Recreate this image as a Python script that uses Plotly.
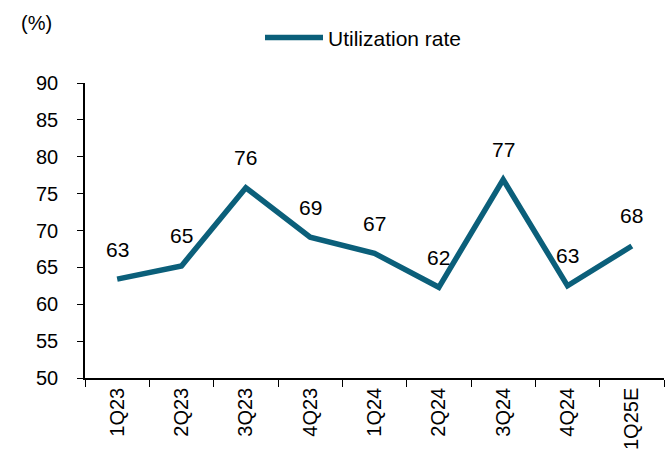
import plotly.graph_objects as go

quarters = ["1Q23", "2Q23", "3Q23", "4Q23", "1Q24", "2Q24", "3Q24", "4Q24", "1Q25E"]
utilization = [63.4, 65.2, 75.8, 69.1, 66.9, 62.3, 76.9, 62.5, 67.9]
labels = ["63", "65", "76", "69", "67", "62", "77", "63", "68"]

color = "#0B5F7A"
font_family = "Liberation Sans, Arial, sans-serif"

fig = go.Figure()
fig.add_trace(go.Scatter(
    x=quarters, y=utilization, mode="lines", name="Utilization rate",
    line=dict(color=color, width=5.5),
))

for q, v, t in zip(quarters, utilization, labels):
    fig.add_annotation(x=q, y=v, text=t, showarrow=False, yshift=30,
                       font=dict(size=21, color="black", family=font_family))

fig.add_annotation(xref="paper", yref="paper", x=-0.084, y=1.202, text="(%)",
                   showarrow=False, xanchor="center", yanchor="middle",
                   font=dict(size=20, color="black", family=font_family))

fig.update_layout(
    template="none",
    width=665, height=457,
    margin=dict(l=85, r=1, t=83, b=79, autoexpand=False),
    plot_bgcolor="white", paper_bgcolor="white",
    font=dict(family=font_family, size=20, color="black"),
    showlegend=True,
    legend=dict(orientation="h", x=0.481, xanchor="center", y=1.153, yanchor="middle",
                font=dict(size=21, color="black"), itemwidth=58, bgcolor="rgba(0,0,0,0)"),
    xaxis=dict(
        type="category", range=[-0.5, len(quarters) - 0.5],
        tickson="boundaries", ticks="outside", ticklen=7,
        tickcolor="black", showline=True, linecolor="black", linewidth=1.5,
        tickangle=-90, showgrid=False, zeroline=False, automargin=False,
        tickfont=dict(size=20),
    ),
    yaxis=dict(
        range=[50, 90], dtick=5, tick0=50, ticks="outside", ticklen=6,
        tickcolor="black", showline=True, linecolor="black", linewidth=1.5,
        showgrid=False, zeroline=False, tickfont=dict(size=20), automargin=False,
        ticklabelstandoff=15,
    ),
)

fig.write_html("out.html", config={"displayModeBar": False},
               post_script="document.body.style.margin='0';")
